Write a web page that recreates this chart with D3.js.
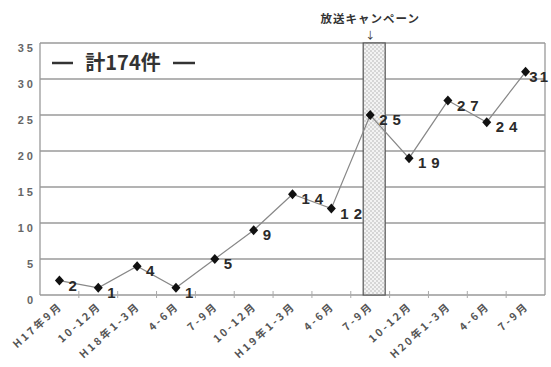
<!DOCTYPE html>
<html><head><meta charset="utf-8">
<script src="https://cdn.jsdelivr.net/npm/d3@7/dist/d3.min.js"></script>
<style>body{margin:0;background:#fff}svg{display:block}</style>
</head><body>
<svg id="chart" width="551" height="367"></svg>
<script>
const categories = ["H17年9月","10-12月","H18年1-3月","4-6月","7-9月","10-12月","H19年1-3月","4-6月","7-9月","10-12月","H20年1-3月","4-6月","7-9月"];
const values = [2,1,4,1,5,9,14,12,25,19,27,24,31];
const yTicks = [0,5,10,15,20,25,30,35];
const campaignIndex = 8;
const campaignLabel = "放送キャンペーン";
const totalLabel = "計174件";

const W = 551;
const svg = d3.select("#chart");
const L = 40, R = 545, T = 43, B = 295;
const x = d3.scaleBand().domain(d3.range(categories.length)).range([L, R]);
const y = d3.scaleLinear().domain([0, 35]).range([B, T]);
const cx = i => x(i) + x.bandwidth() / 2;
const latin = "'Liberation Sans', Arial, 'Noto Sans CJK JP', sans-serif";
const cjk = "'Noto Sans CJK JP', 'Liberation Sans', sans-serif";

// pattern
const defs = svg.append("defs");
const pat = defs.append("pattern").attr("id","dots").attr("patternUnits","userSpaceOnUse")
  .attr("width",4).attr("height",4);
pat.append("rect").attr("width",4).attr("height",4).attr("fill","#f3f3f3");
pat.append("circle").attr("cx",1).attr("cy",1).attr("r",0.8).attr("fill","#b2b2b2");
pat.append("circle").attr("cx",3).attr("cy",3).attr("r",0.8).attr("fill","#b2b2b2");

// gridlines
svg.append("g").selectAll("line").data(yTicks.filter(t => t > 0)).join("line")
  .attr("x1", L).attr("x2", R).attr("y1", d => y(d)).attr("y2", d => y(d))
  .attr("stroke", "#9a9a9a").attr("stroke-width", 1.3);
// frame
svg.append("line").attr("x1", L).attr("x2", L).attr("y1", T).attr("y2", B).attr("stroke", "#999").attr("stroke-width", 1.3);
svg.append("line").attr("x1", R).attr("x2", R).attr("y1", T).attr("y2", B).attr("stroke", "#999").attr("stroke-width", 1.3);
svg.append("line").attr("x1", L).attr("x2", R).attr("y1", B).attr("y2", B).attr("stroke", "#999").attr("stroke-width", 1.3);
// x ticks at band boundaries
svg.append("g").selectAll("line").data(d3.range(1, categories.length)).join("line")
  .attr("x1", d => x(d)).attr("x2", d => x(d)).attr("y1", B + 3).attr("y2", B - 4)
  .attr("stroke", "#aaa").attr("stroke-width", 1);

// y tick labels
svg.append("g").selectAll("text").data(yTicks).join("text")
  .attr("x", 36).attr("y", d => y(d) + 5).attr("dy", "0.35em")
  .attr("text-anchor", "end").attr("font-family", latin).attr("font-weight", "bold")
  .attr("font-size", 11).attr("letter-spacing", 3).attr("fill", "#666")
  .text(d => d);

// x labels
svg.append("g").selectAll("text").data(categories).join("text")
  .attr("transform", (d, i) => `translate(${cx(i) + 4},${B + 12}) rotate(-42)`)
  .attr("text-anchor", "end").attr("font-family", cjk).attr("font-weight", "bold")
  .attr("font-size", 10.5).attr("letter-spacing", 2.5).attr("fill", "#555")
  .text(d => d);

// campaign bar
svg.append("rect")
  .attr("x", cx(campaignIndex) - 7).attr("width", 22)
  .attr("y", y(35)).attr("height", y(0) - y(35))
  .attr("fill", "url(#dots)").attr("stroke", "#555").attr("stroke-width", 1.2);
svg.append("text").attr("x", cx(campaignIndex)).attr("y", 23)
  .attr("text-anchor", "middle").attr("font-family", cjk).attr("font-weight", "bold")
  .attr("font-size", 11.5).attr("letter-spacing", 1).attr("fill", "#333")
  .text(campaignLabel);
svg.append("text").attr("x", cx(campaignIndex)).attr("y", 39)
  .attr("text-anchor", "middle").attr("font-family", cjk)
  .attr("font-size", 10).attr("fill", "#333").text("↓");

// total label
svg.append("line").attr("x1", 52).attr("x2", 73).attr("y1", 63).attr("y2", 63).attr("stroke", "#333").attr("stroke-width", 2.5);
svg.append("line").attr("x1", 173).attr("x2", 195).attr("y1", 63).attr("y2", 63).attr("stroke", "#333").attr("stroke-width", 2.5);
svg.append("text").attr("x", 123).attr("y", 70).attr("text-anchor", "middle")
  .attr("font-family", cjk).attr("font-weight", "bold").attr("font-size", 20).attr("fill", "#333")
  .text(totalLabel);

// line
svg.append("path").datum(values)
  .attr("d", d3.line().x((d, i) => cx(i)).y(d => y(d)))
  .attr("fill", "none").attr("stroke", "#888").attr("stroke-width", 1.2);

// markers
svg.append("g").selectAll("path").data(values).join("path")
  .attr("d", (d, i) => {
    const px = cx(i), py = y(d), w = 4.5, h = 5;
    return `M${px},${py - h}L${px + w},${py}L${px},${py + h}L${px - w},${py}Z`;
  })
  .attr("fill", "#111");

// value labels
const LS = 5;
svg.append("g").selectAll("text").data(values).join("text")
  .attr("x", (d, i) => cx(i) + 9).attr("y", d => y(d) + 5).attr("dy", "0.35em")
  .attr("font-family", latin).attr("font-weight", "bold").attr("font-size", 15)
  .attr("letter-spacing", LS).attr("fill", "#2a2a2a")
  .text(d => d)
  .each(function() {
    const t = d3.select(this);
    const x0 = +t.attr("x");
    if (x0 + this.getComputedTextLength() > W - 1) {
      t.attr("letter-spacing", 2);
      const w = this.getComputedTextLength();
      t.attr("x", W - 1 - w);
    }
  });
</script>
</body></html>
